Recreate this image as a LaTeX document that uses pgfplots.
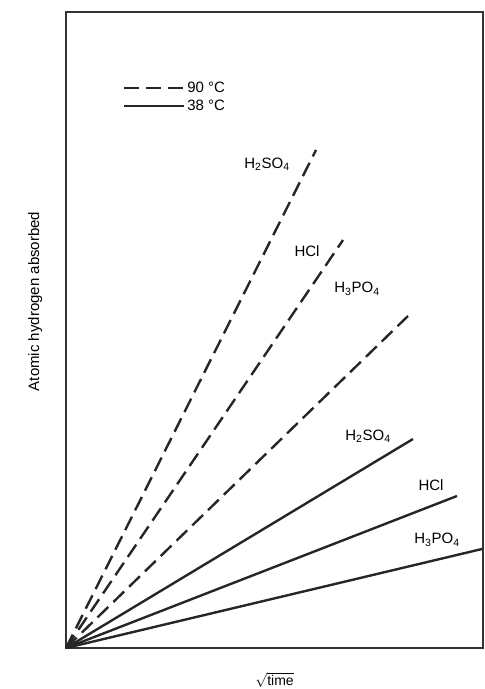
\documentclass[border=0pt]{standalone}
\usepackage{fontspec}
\setmainfont{Liberation Sans}
\usepackage{pgfplots}
\pgfplotsset{compat=1.18}
\begin{document}
\begin{tikzpicture}
\useasboundingbox (-66pt,-41pt) rectangle (419pt,648pt);
\begin{axis}[
  at={(0,0)}, anchor=south west,
  scale only axis, width=417pt, height=636pt,
  xmin=0, xmax=417, ymin=0, ymax=636,
  xtick=\empty, ytick=\empty,
  axis line style={line width=1.6pt, black!80},
  xlabel={$\sqrt{\mbox{time}}$},
  ylabel={Atomic hydrogen absorbed},
  xlabel style={at={(axis description cs:0.5,-0.05)}, anchor=center, font=\fontsize{14}{16}\selectfont},
  ylabel style={at={(axis description cs:-0.074,0.545)}, anchor=center, font=\fontsize{15}{17}\selectfont},
  legend style={at={(axis cs:54,570)}, anchor=north west, draw=none, fill=none,
    font=\fontsize{15}{17}\selectfont, row sep=2pt},
  legend cell align=left,
  legend image code/.code={\draw[#1] (0cm,0cm) -- (2.1cm,0cm);},
  every axis plot/.append style={line width=2.4pt, black!85},
]
\addplot[dash pattern=on 15pt off 7pt] coordinates {(0,0) (250,498)};
\addlegendentry{90 \textdegree C}
\addplot[solid] coordinates {(0,0) (347,209)};
\addlegendentry{38 \textdegree C}
\addplot[dash pattern=on 15pt off 7pt, forget plot] coordinates {(0,0) (277,408)};
\addplot[dash pattern=on 15pt off 7pt, forget plot] coordinates {(0,0) (342,332)};
\addplot[solid, forget plot] coordinates {(0,0) (391,152)};
\addplot[solid, forget plot] coordinates {(0,0) (416,99)};
\begin{scope}[font=\fontsize{15}{17}\selectfont]
\node at (axis cs:201,484) {H\textsubscript{2}SO\textsubscript{4}};
\node at (axis cs:241,397) {HCl};
\node at (axis cs:291,359) {H\textsubscript{3}PO\textsubscript{4}};
\node at (axis cs:302,212) {H\textsubscript{2}SO\textsubscript{4}};
\node at (axis cs:365,163) {HCl};
\node at (axis cs:371,108) {H\textsubscript{3}PO\textsubscript{4}};
\end{scope}
\end{axis}
\end{tikzpicture}
\end{document}
